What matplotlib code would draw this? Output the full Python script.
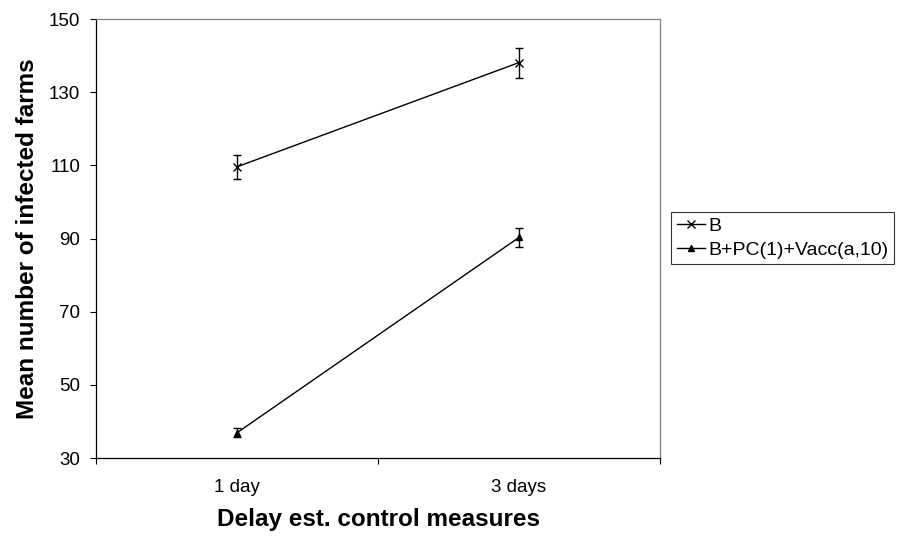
import matplotlib
matplotlib.use("Agg")
import matplotlib.pyplot as plt

plt.rcParams["font.family"] = ["Liberation Sans", "DejaVu Sans"]

categories = ["1 day", "3 days"]
b_mean = [109.6, 138.1]
b_err = [3.2, 4.1]
vacc_mean = [36.9, 90.3]
vacc_err = [1.2, 2.5]
series_names = ["B", "B+PC(1)+Vacc(a,10)"]

fig = plt.figure(figsize=(9.01, 5.45), dpi=100)
ax = fig.add_axes([0.10655, 0.1596, 0.626, 0.8055])

x = [0.5, 1.5]
# error bars drawn separately so the legend shows only line + marker
ax.errorbar(x, b_mean, yerr=b_err, fmt="none", ecolor="black",
            elinewidth=1.0, capsize=3, capthick=1.0)
ax.errorbar(x, vacc_mean, yerr=vacc_err, fmt="none", ecolor="black",
            elinewidth=1.0, capsize=3, capthick=1.0)
ax.plot(x, b_mean, color="black", lw=1.0, marker="x", ms=6, mew=1.0,
        label=series_names[0])
ax.plot(x, vacc_mean, color="black", lw=1.0, marker="^", ms=4.5,
        label=series_names[1])

ax.set_xlim(0, 2)
ax.set_ylim(30, 150)
ax.set_yticks(range(30, 151, 20))
ax.set_xticks([0, 1, 2])
ax.set_xticklabels([])
ax.set_xticks(x, minor=True)
ax.set_xticklabels(categories, minor=True)
ax.tick_params(axis="x", which="minor", length=0, pad=15, labelsize=13.5)
ax.tick_params(axis="x", which="major", length=4, width=0.8, direction="out")
ax.tick_params(axis="y", length=4.5, width=0.8, direction="out", labelsize=13.5, pad=7)

ax.spines["left"].set_linewidth(0.9)
ax.spines["bottom"].set_linewidth(0.9)
ax.spines["top"].set_color("#808080")
ax.spines["right"].set_color("#808080")
ax.spines["top"].set_linewidth(0.9)
ax.spines["right"].set_linewidth(0.9)

ax.set_xlabel("Delay est. control measures", fontsize=17.5, fontweight="bold", labelpad=9)
ax.set_ylabel("Mean number of infected farms", fontsize=17.5, fontweight="bold", labelpad=7)

leg = ax.legend(loc="center left", bbox_to_anchor=(1.0195, 0.501), frameon=True,
                fancybox=False, edgecolor="black", fontsize=14, handlelength=1.45,
                handletextpad=0.15, borderpad=0.3, labelspacing=0.3, borderaxespad=0)
leg.get_frame().set_linewidth(0.8)

fig.savefig("out.png", dpi=100)
